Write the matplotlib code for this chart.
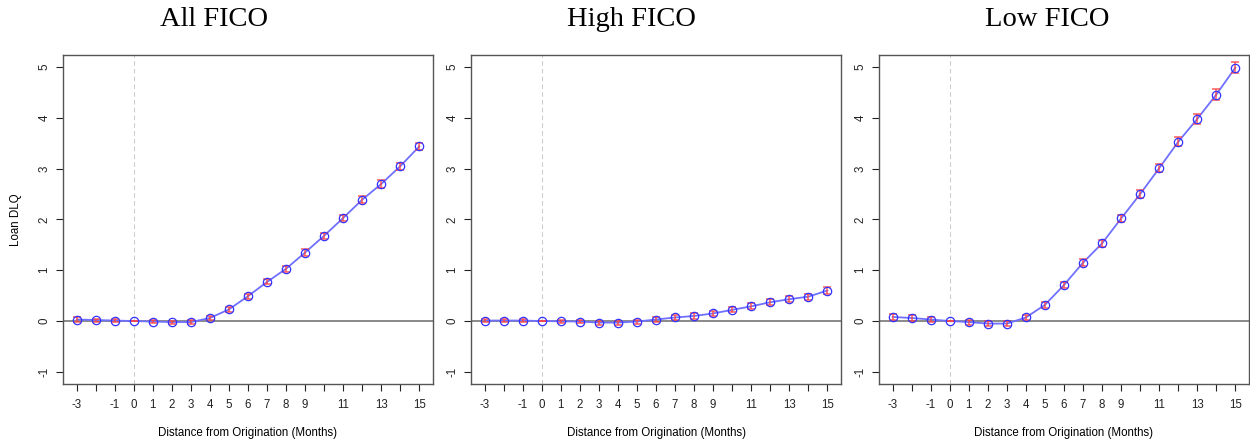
import numpy as np
import matplotlib
matplotlib.use("Agg")
import matplotlib.pyplot as plt

months = list(range(-3, 16))
tick_labels = ['-3', '', '-1', '0', '1', '2', '3', '4', '5', '6', '7', '8', '9', '', '11', '', '13', '', '15']

titles = ['All FICO', 'High FICO', 'Low FICO']

all_fico = [0.03, 0.02, 0.01, 0.0, -0.01, -0.02, -0.02, 0.06, 0.23, 0.49, 0.77, 1.03, 1.35, 1.68, 2.03, 2.39, 2.70, 3.05, 3.44]
all_err = [0.04, 0.03, 0.03, 0.0, 0.03, 0.03, 0.04, 0.04, 0.05, 0.05, 0.05, 0.06, 0.06, 0.06, 0.06, 0.07, 0.07, 0.07, 0.07]

high_fico = [0.01, 0.01, 0.01, 0.0, -0.005, -0.01, -0.03, -0.03, -0.01, 0.03, 0.07, 0.10, 0.15, 0.22, 0.29, 0.37, 0.43, 0.48, 0.60]
high_err = [0.03, 0.03, 0.03, 0.0, 0.03, 0.03, 0.04, 0.04, 0.04, 0.04, 0.05, 0.05, 0.05, 0.05, 0.06, 0.06, 0.06, 0.06, 0.07]

low_fico = [0.08, 0.06, 0.03, 0.0, -0.02, -0.05, -0.05, 0.07, 0.32, 0.71, 1.15, 1.53, 2.02, 2.50, 3.01, 3.53, 3.98, 4.46, 4.99]
low_err = [0.05, 0.05, 0.04, 0.0, 0.05, 0.05, 0.05, 0.05, 0.06, 0.06, 0.07, 0.07, 0.07, 0.08, 0.08, 0.09, 0.10, 0.11, 0.11]

series = [(all_fico, all_err), (high_fico, high_err), (low_fico, low_err)]

plt.rcParams['font.family'] = ['Liberation Sans', 'DejaVu Sans']

fig = plt.figure(figsize=(12.5, 4.44), dpi=100)
lefts = [63, 471, 879]
title_x = [214, 631, 1047]
W, H = 1250.0, 444.0

for i, (vals, errs) in enumerate(series):
    ax = fig.add_axes([lefts[i] / W, 60 / H, 370 / W, 329 / H])
    ax.axhline(0, color='#808080', lw=1.3, zorder=1)
    ax.axvline(0, color='#cccccc', lw=0.8, ls=(0, (4, 3)), zorder=1)
    ax.plot(months, vals, color='#7070ff', lw=1.3, zorder=2)
    ax.errorbar(months, vals, yerr=errs, fmt='none', ecolor='#ff4040', elinewidth=1.1,
                capsize=3.2, capthick=1.1, alpha=0.85, zorder=3)
    ax.plot(months, vals, 'o', mfc='none', mec='#3333ff', ms=6, mew=0.9, zorder=4)
    ax.set_xlim(-3.72, 15.72)
    ax.set_ylim(-1.24, 5.24)
    ax.set_xticks(months)
    ax.set_xticklabels(tick_labels)
    ax.set_yticks([-1, 0, 1, 2, 3, 4, 5])
    ax.set_yticklabels(['-1', '0', '1', '2', '3', '4', '5'], rotation=90, va='center')
    ax.tick_params(direction='out', length=5, width=0.8, labelsize=8.3, colors='#222222', pad=4)
    ax.tick_params(axis='x', pad=6)
    for s in ax.spines.values():
        s.set_color('#555555')
        s.set_linewidth(1.0)
    ax.set_xlabel('Distance from Origination (Months)', fontsize=8.3, labelpad=11)
    if i == 0:
        ax.set_ylabel('Loan DLQ', fontsize=8.3, labelpad=12)
    fig.text(title_x[i] / W, 1 - 19 / H, titles[i], ha='center', va='center',
             fontsize=20.5, family=['Liberation Serif', 'DejaVu Serif'])

fig.savefig('out.png', dpi=100)
